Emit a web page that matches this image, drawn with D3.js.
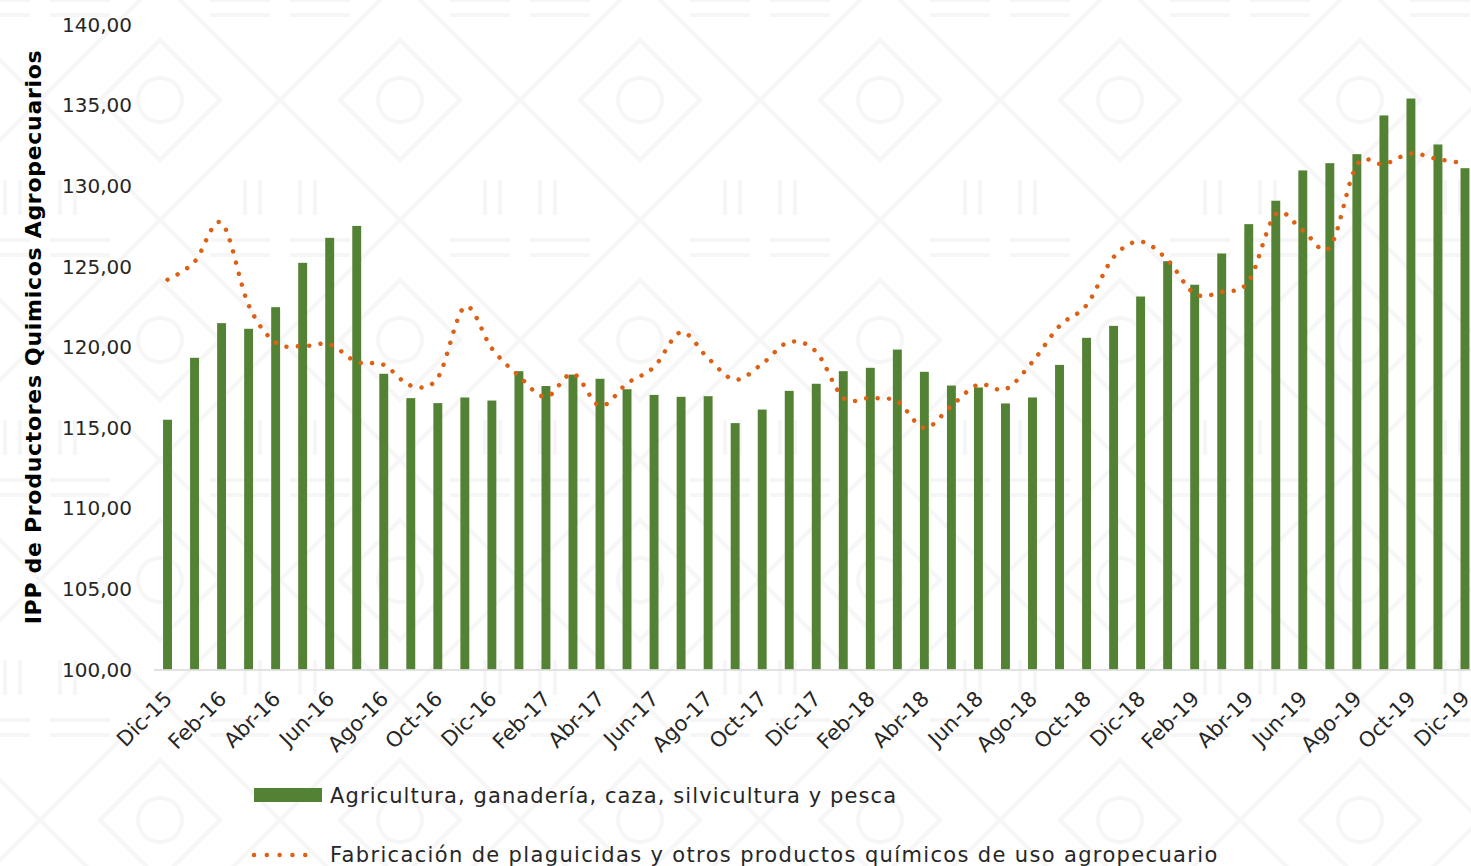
<!DOCTYPE html>
<html>
<head>
<meta charset="utf-8">
<script src="https://cdn.jsdelivr.net/npm/d3@7"></script>
<style>
  body { margin: 0; background: #fff; }
  text { font-family: "DejaVu Sans", sans-serif; fill: #262626; }
</style>
</head>
<body>
<div id="chart"></div>
<script>
const months = [
  'Dic-15',
  'Ene-16', 'Feb-16', 'Mar-16', 'Abr-16', 'May-16', 'Jun-16', 'Jul-16', 'Ago-16', 'Sep-16', 'Oct-16', 'Nov-16', 'Dic-16',
  'Ene-17', 'Feb-17', 'Mar-17', 'Abr-17', 'May-17', 'Jun-17', 'Jul-17', 'Ago-17', 'Sep-17', 'Oct-17', 'Nov-17', 'Dic-17',
  'Ene-18', 'Feb-18', 'Mar-18', 'Abr-18', 'May-18', 'Jun-18', 'Jul-18', 'Ago-18', 'Sep-18', 'Oct-18', 'Nov-18', 'Dic-18',
  'Ene-19', 'Feb-19', 'Mar-19', 'Abr-19', 'May-19', 'Jun-19', 'Jul-19', 'Ago-19', 'Sep-19', 'Oct-19', 'Nov-19', 'Dic-19'
];

// Agricultura, ganadería, caza, silvicultura y pesca (barras)
const agricultura = [
  115.49,
  119.33, 121.48, 121.13, 122.47, 125.22, 126.77, 127.51, 118.34, 116.83, 116.52, 116.87, 116.68,
  118.50, 117.58, 118.29, 118.03, 117.38, 117.03, 116.91, 116.95, 115.28, 116.12, 117.28, 117.72,
  118.50, 118.71, 119.84, 118.46, 117.61, 117.49, 116.50, 116.87, 118.89, 120.57, 121.31, 123.13,
  125.32, 123.86, 125.80, 127.62, 129.07, 130.95, 131.40, 131.96, 134.36, 135.41, 132.56, 131.09
];

// Fabricación de plaguicidas y otros productos químicos de uso agropecuario (línea)
const plaguicidas = [
  124.17,
  125.28, 127.70, 122.60, 120.28, 120.05, 120.16, 119.08, 118.89, 117.61, 118.10, 122.49, 119.91,
  118.20, 116.90, 118.34, 116.35, 117.74, 118.76, 120.92, 119.30, 117.97, 118.96, 120.31, 119.70,
  116.85, 116.83, 116.62, 114.98, 116.35, 117.67, 117.38, 119.08, 121.31, 122.60, 125.57, 126.54,
  125.39, 123.30, 123.42, 124.08, 128.24, 127.23, 126.19, 131.28, 131.34, 132.00, 131.65, 131.40
];

const yTicks = [100, 105, 110, 115, 120, 125, 130, 135, 140];
const legendLabels = [
  'Agricultura, ganadería, caza, silvicultura y pesca',
  'Fabricación de plaguicidas y otros productos químicos de uso agropecuario'
];

const width = 1471;
const height = 866;
const green = '#548235';
const orange = '#DD6114';
const fmt = v => d3.format('.2f')(v).replace('.', ',');

const svg = d3.select('#chart')
  .append('svg')
  .attr('width', width)
  .attr('height', height);

// marca de agua tenue
const pat = svg.append('defs').append('pattern')
  .attr('id', 'wm')
  .attr('patternUnits', 'userSpaceOnUse')
  .attr('width', 240)
  .attr('height', 240)
  .attr('x', 40)
  .attr('y', -20);
pat.append('path')
  .attr('d', 'M0,120 L120,0 L240,120 L120,240 Z M60,120 L120,60 L180,120 L120,180 Z')
  .attr('fill', 'none').attr('stroke', '#f6f6f6').attr('stroke-width', 4);
pat.append('path')
  .attr('d', 'M10,20 H70 M10,35 H70 M170,20 H230 M170,35 H230 M20,200 V235 M35,200 V235 M205,200 V235 M220,200 V235')
  .attr('fill', 'none').attr('stroke', '#f6f6f6').attr('stroke-width', 4);
pat.append('circle')
  .attr('cx', 120).attr('cy', 120).attr('r', 22)
  .attr('fill', 'none').attr('stroke', '#f6f6f6').attr('stroke-width', 4);
svg.append('rect')
  .attr('width', width).attr('height', height)
  .attr('fill', 'url(#wm)');

const x = d3.scaleBand()
  .domain(months)
  .range([154, 1478.5])
  .paddingInner(0.67)
  .paddingOuter(0.335);

const y = d3.scaleLinear()
  .domain([100, 140])
  .range([669.5, 24.5]);

const cx = m => x(m) + x.bandwidth() / 2;

// eje Y (solo etiquetas)
svg.append('g')
  .selectAll('text')
  .data(yTicks)
  .enter().append('text')
  .attr('x', 132)
  .attr('y', d => y(d))
  .attr('dy', '0.36em')
  .attr('text-anchor', 'end')
  .style('font-size', '20px')
  .text(d => fmt(d));

svg.append('text')
  .attr('transform', `translate(41, ${(y(100) + y(140)) / 2 - 10}) rotate(-90)`)
  .attr('text-anchor', 'middle')
  .style('font-size', '22px')
  .style('font-weight', 'bold')
  .style('letter-spacing', '0.7px')
  .style('fill', '#000')
  .text('IPP de Productores Quimicos Agropecuarios');

// barras
svg.selectAll('.bar')
  .data(months)
  .enter().append('rect')
  .attr('class', 'bar')
  .attr('x', d => x(d))
  .attr('y', (d, i) => y(agricultura[i]))
  .attr('width', x.bandwidth())
  .attr('height', (d, i) => y(100) - y(agricultura[i]))
  .attr('fill', green);

// línea base
svg.append('line')
  .attr('x1', x.range()[0])
  .attr('x2', x.range()[1])
  .attr('y1', y(100) + 0.5)
  .attr('y2', y(100) + 0.5)
  .attr('stroke', '#d9d9d9')
  .attr('stroke-width', 1.5);

// etiquetas del eje X, cada dos meses
svg.append('g')
  .selectAll('text')
  .data(months.filter((d, i) => i % 2 === 0))
  .enter().append('text')
  .attr('transform', d => `translate(${cx(d) + 6}, 700) rotate(-45)`)
  .attr('text-anchor', 'end')
  .style('font-size', '21px')
  .text(d => d);

// línea punteada suavizada
const line = d3.line()
  .x((d, i) => cx(months[i]))
  .y(d => y(d))
  .curve(d3.curveCatmullRom.alpha(0));

svg.append('path')
  .datum(plaguicidas)
  .attr('d', line)
  .attr('fill', 'none')
  .attr('stroke', orange)
  .attr('stroke-width', 4.5)
  .attr('stroke-linecap', 'round')
  .attr('stroke-dasharray', '0.01 11.4');

// leyenda
const legend = svg.append('g');
legend.append('rect')
  .attr('x', 254).attr('y', 788)
  .attr('width', 68).attr('height', 14)
  .attr('fill', green);
legend.append('text')
  .attr('x', 330).attr('y', 803)
  .style('font-size', '21px')
  .style('letter-spacing', '1.1px')
  .text(legendLabels[0]);
legend.append('line')
  .attr('x1', 254).attr('x2', 318)
  .attr('y1', 855).attr('y2', 855)
  .attr('stroke', orange)
  .attr('stroke-width', 4.5)
  .attr('stroke-linecap', 'round')
  .attr('stroke-dasharray', '0.01 12.8');
legend.append('text')
  .attr('x', 330).attr('y', 862)
  .style('font-size', '21px')
  .style('letter-spacing', '1.35px')
  .text(legendLabels[1]);
</script>
</body>
</html>
